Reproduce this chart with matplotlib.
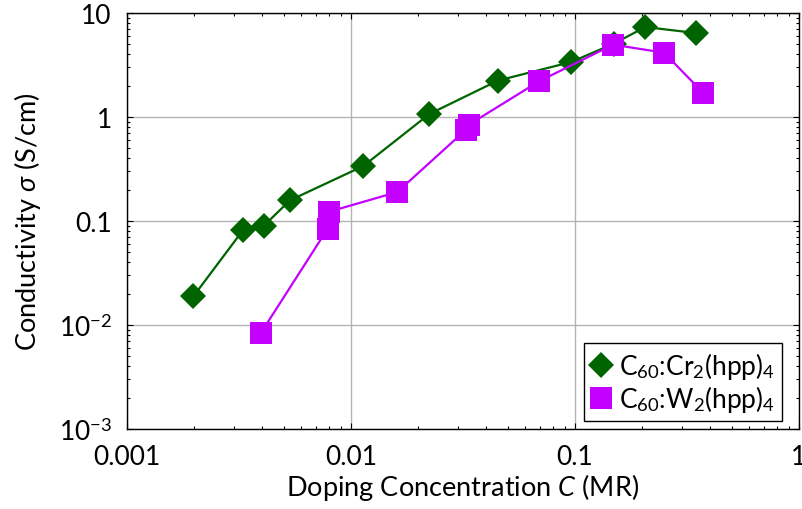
import numpy as np
import matplotlib
matplotlib.use('Agg')
import matplotlib.pyplot as plt
from matplotlib.ticker import FixedLocator, FixedFormatter, LogLocator, NullFormatter

# C60:Cr2(hpp)4
cr_conc = [0.00198, 0.00329, 0.00407, 0.00534, 0.01136, 0.0224, 0.0453, 0.0962, 0.149, 0.206, 0.346]
cr_sigma = [0.0189, 0.0813, 0.0895, 0.158, 0.338, 1.07, 2.24, 3.38, 5.07, 7.33, 6.42]

# C60:W2(hpp)4
w_conc = [0.00396, 0.00787, 0.0080, 0.0161, 0.0325, 0.0335, 0.0690, 0.148, 0.250, 0.373]
w_sigma = [0.00838, 0.0844, 0.123, 0.190, 0.75, 0.84, 2.20, 4.96, 4.15, 1.71]

xticks = [0.001, 0.01, 0.1, 1]
xticklabels = ['0.001', '0.01', '0.1', '1']
yticks = [0.001, 0.01, 0.1, 1, 10]
yticklabels = ['$10^{-3}$', '$10^{-2}$', '0.1', '1', '10']

plt.rcParams['font.family'] = ['Lato', 'DejaVu Sans']
plt.rcParams['mathtext.fontset'] = 'custom'
plt.rcParams['mathtext.rm'] = 'Lato'
plt.rcParams['mathtext.it'] = 'Lato:italic'
plt.rcParams['mathtext.bf'] = 'Lato:bold'

fig = plt.figure(figsize=(8.02, 5.10), dpi=100)
ax = fig.add_axes([127/802, 1-430/510, (799-127)/802, (430-14)/510])

green = '#006400'
purple = '#C400FF'

ax.plot(cr_conc, cr_sigma, color=green, lw=1.6, marker='D', ms=13, mec=green, mew=0,
        label='C$_{60}$:Cr$_2$(hpp)$_4$', zorder=3)
ax.plot(w_conc, w_sigma, color=purple, lw=1.6, marker='s', ms=16, mec=purple, mew=0,
        label='C$_{60}$:W$_2$(hpp)$_4$', zorder=3)

ax.set_xscale('log')
ax.set_yscale('log')
ax.set_xlim(0.001, 1)
ax.set_ylim(0.001, 10)

ax.xaxis.set_major_locator(FixedLocator(xticks))
ax.xaxis.set_major_formatter(FixedFormatter(xticklabels))
ax.yaxis.set_major_locator(FixedLocator(yticks))
ax.yaxis.set_major_formatter(FixedFormatter(yticklabels))
ax.xaxis.set_minor_locator(LogLocator(base=10, subs=np.arange(2, 10)))
ax.yaxis.set_minor_locator(LogLocator(base=10, subs=np.arange(2, 10)))
ax.xaxis.set_minor_formatter(NullFormatter())
ax.yaxis.set_minor_formatter(NullFormatter())

ax.tick_params(which='both', direction='in', top=True, right=True, labelsize=19)
ax.tick_params(which='major', length=4.5, width=0.8, pad=11)
ax.tick_params(which='minor', length=2.5, width=0.8)

ax.grid(True, which='major', color='#b4b4b4', lw=1.0, zorder=0)
for s in ax.spines.values():
    s.set_linewidth(1.0)

ax.set_xlabel('Doping Concentration $C$ (MR)', fontsize=19.5, labelpad=1)
ax.set_ylabel('Conductivity $\\sigma$ (S/cm)', fontsize=19.5, labelpad=11)

leg = ax.legend(loc='lower right', bbox_to_anchor=((782-127)/672, (430-422)/416),
                fontsize=19, frameon=True, fancybox=False,
                edgecolor='black', framealpha=1, handlelength=0.8, handletextpad=0.3,
                borderpad=0.25, labelspacing=0.1, borderaxespad=0)
leg.get_frame().set_linewidth(1.0)
for h in leg.legend_handles:
    h.set_linestyle('none')

fig.savefig('out.png', dpi=100)
